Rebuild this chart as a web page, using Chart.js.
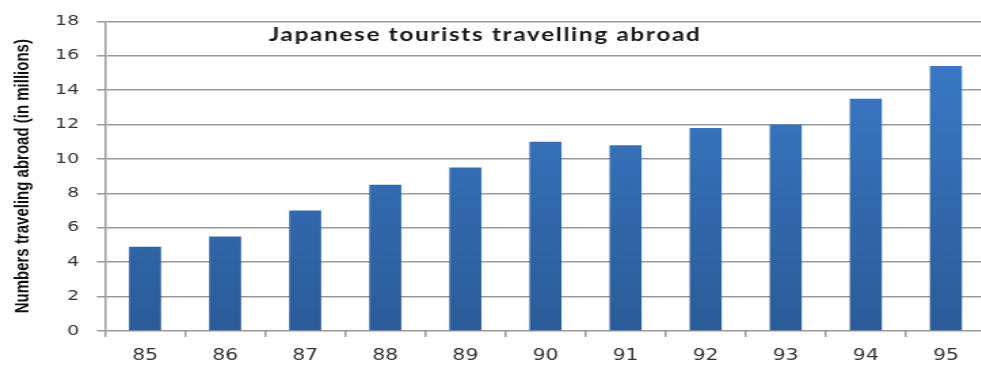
<!DOCTYPE html>
<html>
<head>
<meta charset="utf-8">
<script src="https://cdn.jsdelivr.net/npm/chart.js@4"></script>
<style>
  html, body { margin: 0; padding: 0; background: #fff; overflow: hidden; }
  #touristChart { display: block; }
</style>
</head>
<body>
<canvas id="touristChart" width="730" height="367" style="width: 990px; height: 367px;"></canvas>
<script>
const years = ['85', '86', '87', '88', '89', '90', '91', '92', '93', '94', '95'];
const travellers = [4.9, 5.5, 7.0, 8.5, 9.5, 11.0, 10.8, 11.8, 12.0, 13.5, 15.4];
const yTicks = [0, 2, 4, 6, 8, 10, 12, 14, 16, 18];
const chartTitle = 'Japanese tourists travelling abroad';
const yTitle = 'Numbers traveling abroad (in millions)';

// title sits inside the plot, a bit left of centre
const innerTitle = {
    id: 'innerTitle',
    afterDatasetsDraw(chart) {
        const a = chart.chartArea;
        const c = chart.ctx;
        c.save();
        c.font = 'bold 18px Lato, "Open Sans", sans-serif';
        c.letterSpacing = '1.2px';
        c.fillStyle = '#1a1a1a';
        c.textAlign = 'center';
        c.textBaseline = 'middle';
        c.fillText(chartTitle, a.left + (a.right - a.left) * 0.4315, a.top + 14);
        c.restore();
    }
};

function barFill(context) {
    const area = context.chart.chartArea;
    if (!area) return '#3470b8';
    const g = context.chart.ctx.createLinearGradient(0, area.top, 0, area.bottom);
    g.addColorStop(0, '#3c7dcb');
    g.addColorStop(1, '#2b5b98');
    return g;
}

const ctx = document.getElementById('touristChart').getContext('2d');
new Chart(ctx, {
    type: 'bar',
    data: {
        labels: years,
        datasets: [{
            data: travellers,
            backgroundColor: barFill,
            borderWidth: 0,
            categoryPercentage: 1,
            barPercentage: 0.4
        }]
    },
    options: {
        responsive: false,
        animation: false,
        layout: { padding: { top: 13, right: 3, left: 0, bottom: 0 } },
        plugins: {
            legend: { display: false },
            tooltip: { enabled: false }
        },
        scales: {
            x: {
                grid: {
                    offset: true,
                    drawOnChartArea: false,
                    color: '#999',
                    lineWidth: 1.5,
                    tickLength: 6
                },
                border: { display: false },
                ticks: {
                    color: '#333',
                    font: { family: '"DejaVu Sans"', size: 15 },
                    padding: 10
                },
                afterFit(scale) { scale.height = 36; }
            },
            y: {
                min: 0,
                max: 18,
                afterBuildTicks(scale) {
                    scale.ticks = yTicks.map(v => ({ value: v }));
                },
                grid: {
                    color: '#999',
                    lineWidth: 1.5,
                    tickLength: 6
                },
                border: { color: '#999', width: 1.5 },
                ticks: {
                    color: '#333',
                    font: { family: '"DejaVu Sans"', size: 14 },
                    padding: 13
                },
                title: {
                    display: true,
                    text: yTitle,
                    color: '#111',
                    font: { family: '"Liberation Sans Narrow", "Liberation Sans"', size: 15, weight: 'bold' },
                    padding: { top: 8, bottom: 0 }
                },
                afterFit(scale) { scale.width = 77.4; }
            }
        }
    },
    plugins: [innerTitle]
});
</script>
</body>
</html>
